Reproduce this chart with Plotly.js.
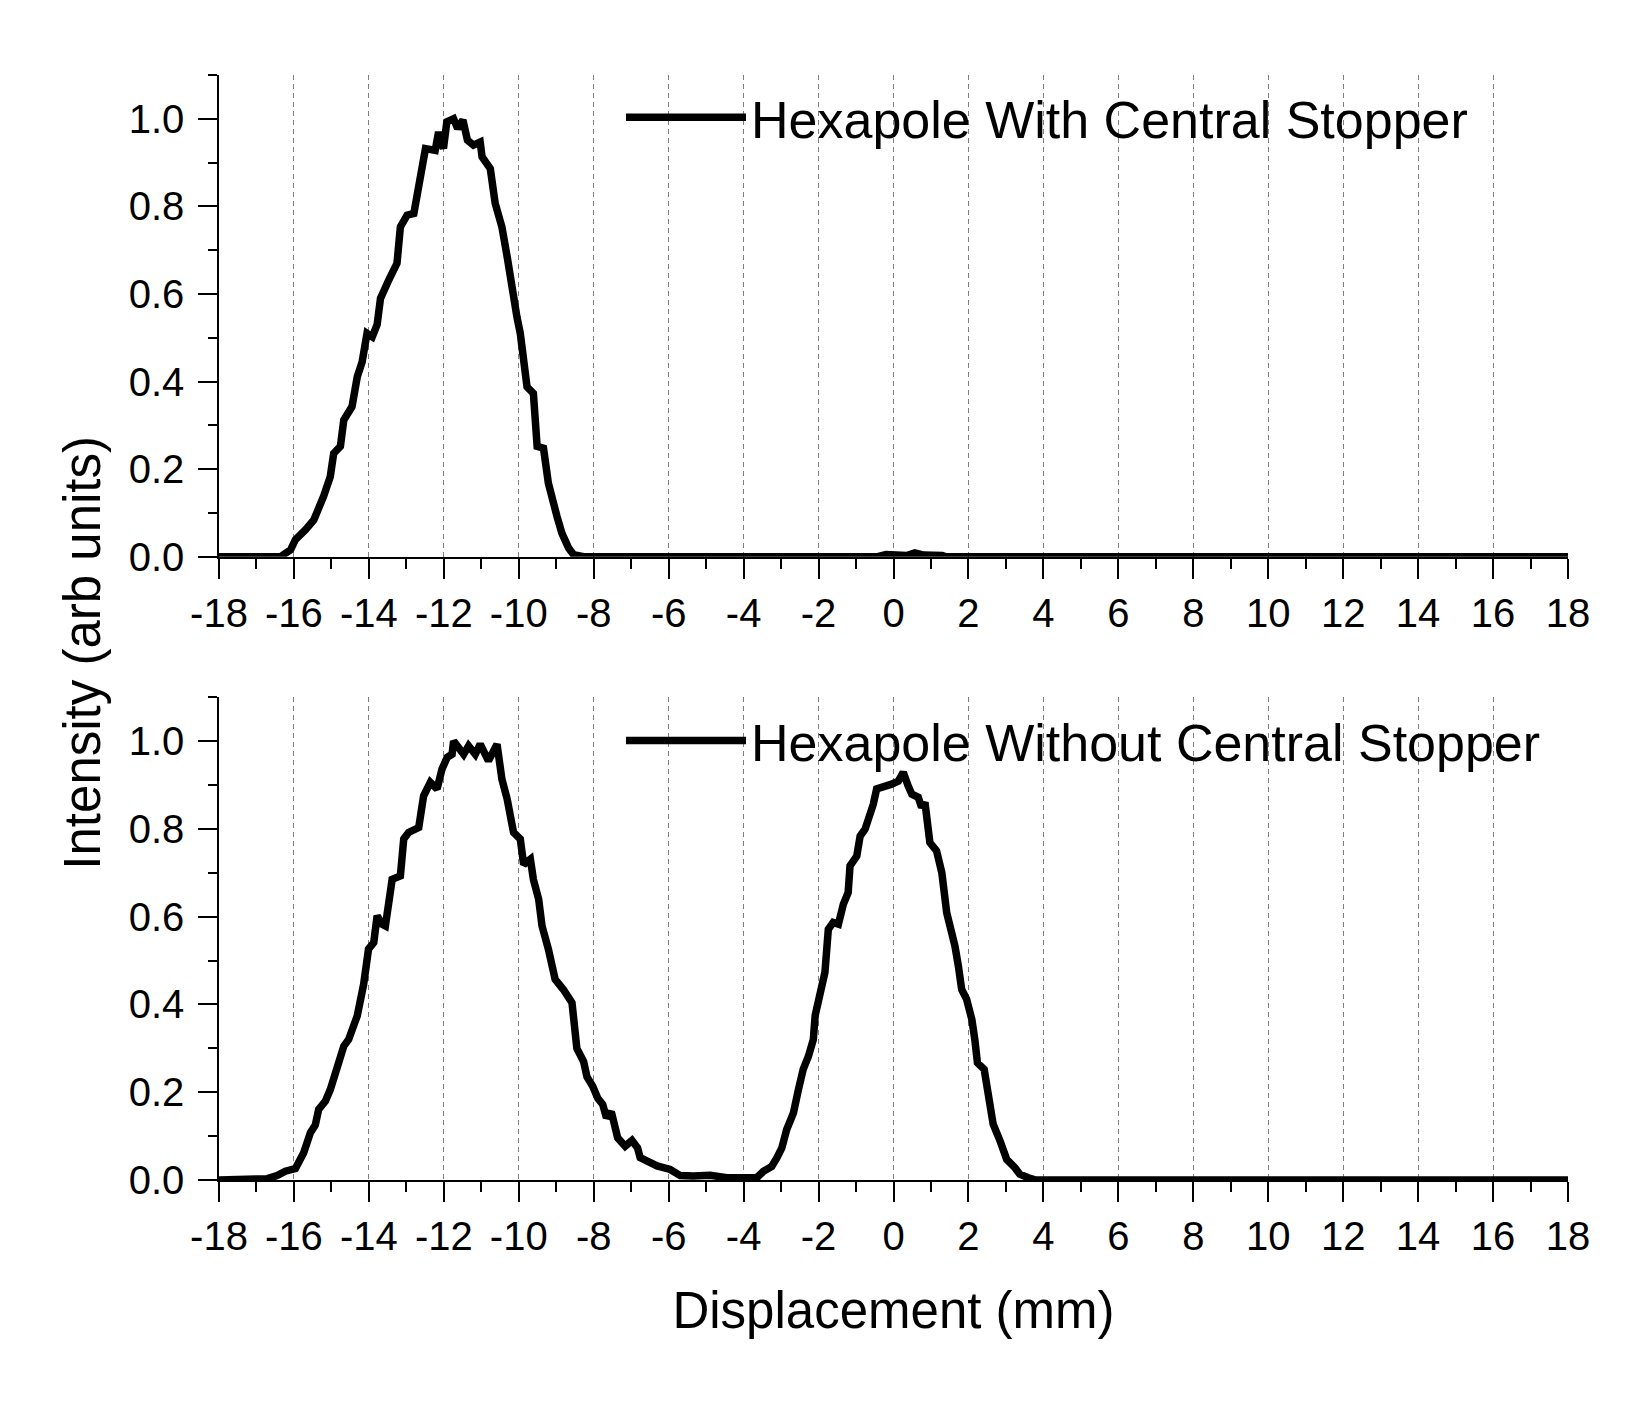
<!DOCTYPE html>
<html>
<head>
<meta charset="utf-8">
<script src="https://cdn.plot.ly/plotly-3.0.1.min.js"></script>
<style>
  body { margin: 0; background: #fff; }
  #plot { width: 1632px; height: 1406px; }
</style>
</head>
<body>
<div id="plot"></div>
<script>
'use strict';

// Hexapole with central stopper (top panel)
const withX = [-18, -16.36, -16.09, -15.96, -15.69, -15.47, -15.21, -15.03, -14.94, -14.76,
	-14.67, -14.45, -14.31, -14.18, -14.05, -13.91, -13.78, -13.69, -13.47, -13.25,
	-13.16, -12.98, -12.80, -12.71, -12.58, -12.49, -12.23, -12.14, -12.01, -11.92,
	-11.74, -11.63, -11.49, -11.37, -11.21, -11.03, -10.98, -10.76, -10.63, -10.45,
	-10.31, -10.18, -10.05, -9.96, -9.78, -9.61, -9.51, -9.34, -9.21, -8.98,
	-8.85, -8.67, -8.54, -8.27, -0.45, -0.2, 0.1, 0.35, 0.57, 0.8, 1.3, 1.4, 18];
const withY = [0, 0, 0.016, 0.039, 0.062, 0.084, 0.138, 0.183, 0.236, 0.252,
	0.312, 0.343, 0.411, 0.445, 0.510, 0.502, 0.530, 0.590, 0.632, 0.670,
	0.753, 0.780, 0.784, 0.829, 0.875, 0.932, 0.928, 0.970, 0.932, 0.993,
	1.000, 0.978, 0.997, 0.951, 0.940, 0.947, 0.913, 0.886, 0.807, 0.753,
	0.685, 0.609, 0.548, 0.510, 0.388, 0.373, 0.252, 0.248, 0.168, 0.092,
	0.054, 0.020, 0.005, 0, 0, 0.005, 0.004, 0.003, 0.009, 0.004, 0.003, 0, 0];

// Hexapole without central stopper (bottom panel)
const withoutX = [-18, -16.71, -16.45, -16.23, -15.96, -15.83, -15.74, -15.56, -15.43, -15.34,
	-15.16, -15.03, -14.85, -14.67, -14.54, -14.31, -14.14, -14.01, -13.87, -13.78,
	-13.65, -13.56, -13.43, -13.38, -13.16, -13.07, -12.94, -12.67, -12.54, -12.36,
	-12.18, -12.05, -11.91, -11.78, -11.74, -11.47, -11.34, -11.16, -11.03, -10.81,
	-10.58, -10.45, -10.31, -10.18, -10.14, -9.96, -9.87, -9.69, -9.61, -9.47,
	-9.38, -9.21, -9.03, -8.81, -8.58, -8.45, -8.27, -8.18, -8.03, -7.89,
	-7.76, -7.66, -7.53, -7.36, -7.16, -6.98, -6.83, -6.76, -6.31, -5.96,
	-5.69, -5.34, -4.89, -4.45, -3.65, -3.47, -3.25, -3.11, -2.98, -2.85,
	-2.67, -2.54, -2.41, -2.27, -2.14, -2.09, -1.96, -1.83, -1.74, -1.61,
	-1.47, -1.34, -1.21, -1.16, -0.98, -0.89, -0.76, -0.63, -0.54, -0.45,
	-0.27, -0.05, 0.13, 0.26, 0.39, 0.49, 0.66, 0.75, 0.84, 0.97,
	1.15, 1.29, 1.42, 1.51, 1.64, 1.73, 1.82, 1.95, 2.09, 2.17,
	2.24, 2.42, 2.53, 2.66, 2.84, 2.93, 3.02, 3.24, 3.37, 3.60,
	3.8, 18];
const withoutY = [0, 0.003, 0.010, 0.020, 0.026, 0.043, 0.062, 0.108, 0.125, 0.161,
	0.180, 0.206, 0.256, 0.305, 0.320, 0.374, 0.446, 0.526, 0.541, 0.602,
	0.583, 0.579, 0.655, 0.685, 0.693, 0.777, 0.792, 0.803, 0.875, 0.906,
	0.891, 0.936, 0.963, 0.970, 1.000, 0.970, 0.989, 0.970, 0.993, 0.955,
	0.993, 0.913, 0.868, 0.822, 0.792, 0.777, 0.719, 0.731, 0.685, 0.640,
	0.579, 0.526, 0.457, 0.434, 0.404, 0.300, 0.270, 0.235, 0.214, 0.186,
	0.172, 0.142, 0.155, 0.096, 0.077, 0.090, 0.073, 0.051, 0.032, 0.024,
	0.010, 0.009, 0.011, 0.005, 0.005, 0.020, 0.031, 0.051, 0.073, 0.115,
	0.153, 0.205, 0.252, 0.282, 0.320, 0.375, 0.427, 0.473, 0.571, 0.587,
	0.583, 0.628, 0.655, 0.716, 0.738, 0.784, 0.799, 0.830, 0.856, 0.891,
	0.894, 0.902, 0.909, 0.929, 0.898, 0.879, 0.872, 0.849, 0.860, 0.769,
	0.750, 0.700, 0.609, 0.579, 0.533, 0.488, 0.434, 0.412, 0.366, 0.320,
	0.267, 0.252, 0.191, 0.127, 0.090, 0.073, 0.047, 0.028, 0.013, 0.005,
	0, 0];

// tick labels use a plain hyphen, as in the original figure
const xTickVals = [-18, -16, -14, -12, -10, -8, -6, -4, -2, 0, 2, 4, 6, 8, 10, 12, 14, 16, 18];
const xTickText = ['-18', '-16', '-14', '-12', '-10', '-8', '-6', '-4', '-2', '0',
	'2', '4', '6', '8', '10', '12', '14', '16', '18'];

const seriesNames = ['Hexapole With Central Stopper', 'Hexapole Without Central Stopper'];
const xTitle = 'Displacement (mm)';
const yTitle = 'Intensity (arb units)';

const font = 'Liberation Sans, Arial, sans-serif';
const lineStyle = {color: 'black', width: 7.5};

const traces = [
	{x: withX, y: withY, type: 'scatter', mode: 'lines', name: seriesNames[0],
		line: lineStyle, xaxis: 'x', yaxis: 'y', legend: 'legend'},
	{x: withoutX, y: withoutY, type: 'scatter', mode: 'lines', name: seriesNames[1],
		line: lineStyle, xaxis: 'x2', yaxis: 'y2', legend: 'legend2'}
];

function xAxis(anchor)
{
	return {
		anchor: anchor,
		range: [-18, 18],
		tickmode: 'array',
		tickvals: xTickVals,
		ticktext: xTickText,
		ticks: 'outside',
		ticklen: 20,
		tickwidth: 1.5,
		tickcolor: 'black',
		showline: true,
		linecolor: 'black',
		linewidth: 1.5,
		zeroline: false,
		showgrid: true,
		gridcolor: '#808080',
		gridwidth: 1,
		griddash: '5px,4px',
		tickfont: {family: font, size: 40, color: 'black'},
		minor: {dtick: 1, tick0: 0, ticks: 'outside', ticklen: 10, tickwidth: 1.5, tickcolor: 'black', showgrid: false}
	};
}

function yAxis(domain, anchor)
{
	return {
		anchor: anchor,
		domain: domain,
		range: [0, 1.1],
		dtick: 0.2,
		tick0: 0,
		tickformat: '.1f',
		ticks: 'outside',
		ticklen: 19,
		tickwidth: 1.5,
		tickcolor: 'black',
		ticklabelstandoff: 6,
		showline: true,
		linecolor: 'black',
		linewidth: 1.5,
		zeroline: false,
		showgrid: false,
		tickfont: {family: font, size: 40, color: 'black'},
		minor: {dtick: 0.1, ticks: 'outside', ticklen: 9, tickwidth: 1.5, tickcolor: 'black', showgrid: false}
	};
}

const legendBase = {
	xanchor: 'left',
	yanchor: 'middle',
	bgcolor: 'rgba(0,0,0,0)',
	borderwidth: 0,
	itemwidth: 120,
	font: {family: font, size: 52, color: 'black'}
};

const layout = {
	width: 1632,
	height: 1406,
	margin: {l: 218.5, r: 63.5, t: 75, b: 225.5},
	paper_bgcolor: 'white',
	plot_bgcolor: 'white',
	font: {family: font, color: 'black'},
	showlegend: true,
	xaxis: xAxis('y'),
	yaxis: yAxis([0.564, 1], 'x'),
	xaxis2: Object.assign(xAxis('y2'), {
		title: {text: xTitle, standoff: 36, font: {family: font, size: 51, color: 'black'}}
	}),
	yaxis2: yAxis([0, 0.4369], 'x2'),
	legend: Object.assign({}, legendBase, {x: 0.298, y: 0.9615}),
	legend2: Object.assign({}, legendBase, {x: 0.298, y: 0.3976}),
	annotations: [{
		text: yTitle,
		xref: 'paper', yref: 'paper',
		x: -0.101, y: 0.477,
		xanchor: 'center', yanchor: 'middle',
		textangle: -90,
		showarrow: false,
		font: {family: font, size: 51, color: 'black'}
	}]
};

Plotly.newPlot('plot', traces, layout, {displayModeBar: false, responsive: false});
</script>
</body>
</html>
